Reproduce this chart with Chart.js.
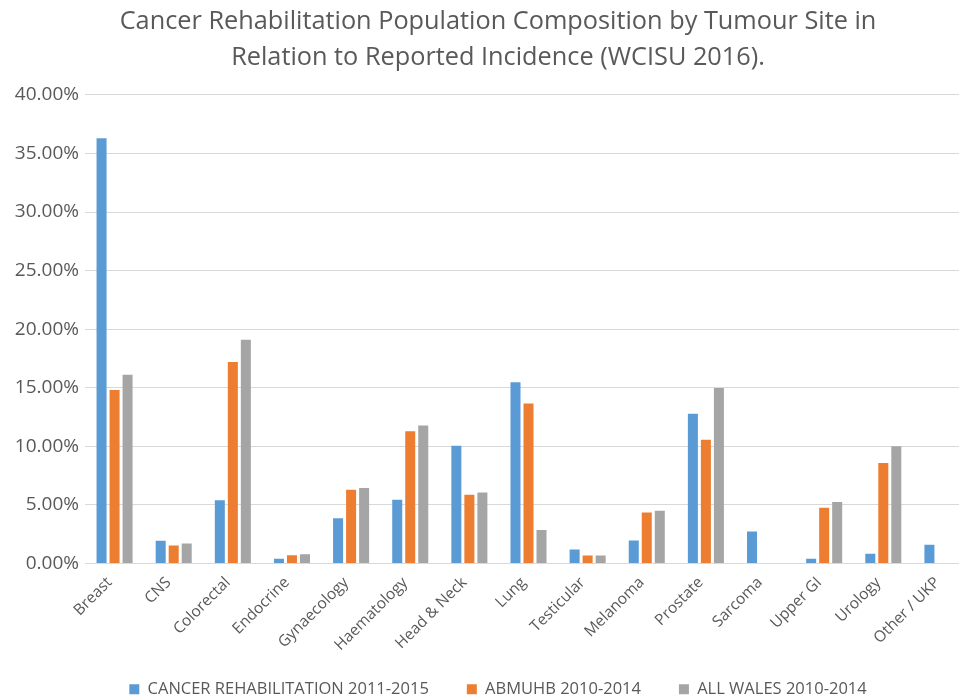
<!DOCTYPE html>
<html>
<head>
<meta charset="utf-8">
<script src="https://cdn.jsdelivr.net/npm/chart.js@4.4.0/dist/chart.umd.min.js"></script>
<style>
html,body{margin:0;padding:0;background:#fff;overflow:hidden;width:959px;height:699px;}
#wrap{width:996px;height:699px;position:relative;}
</style>
</head>
<body>
<div id="wrap"><canvas id="c" width="996" height="699"></canvas></div>
<script>
const categories = ["Breast","CNS","Colorectal","Endocrine","Gynaecology","Haematology","Head & Neck","Lung","Testicular","Melanoma","Prostate","Sarcoma","Upper GI","Urology","Other / UKP"];
const seriesNames = ["CANCER REHABILITATION 2011-2015","ABMUHB 2010-2014","ALL WALES 2010-2014"];
const rehab2011_2015 = [36.3, 1.95, 5.4, 0.4, 3.87, 5.44, 10.06, 15.47, 1.2, 1.97, 12.79, 2.74, 0.4, 0.83, 1.6];
const abmuhb2010_2014 = [14.8, 1.54, 17.2, 0.7, 6.3, 11.28, 5.87, 13.65, 0.68, 4.36, 10.56, 0, 4.76, 8.57, 0];
const allWales2010_2014 = [16.1, 1.7, 19.1, 0.8, 6.44, 11.77, 6.07, 2.85, 0.68, 4.5, 14.98, 0, 5.24, 10.0, 0];
const yTicks = [0,5,10,15,20,25,30,35,40];

const FONT = "'Open Sans', sans-serif";
const GREY = '#595959';

// centre the title and legend over the full (uncropped) chart width; place legend row
const centrePlugin = {
  id: 'centreBlocks',
  afterLayout(chart) {
    const s = 7;
    [chart.titleBlock, chart.legend].forEach(b => { if (b) { b.left += s; b.right += s; } });
    const L = chart.legend;
    if (L) { const h = L.height; L.top = 643; L.bottom = L.top + h; }
  }
};

new Chart(document.getElementById('c'), {
  type: 'bar',
  plugins: [centrePlugin],
  data: {
    labels: categories,
    datasets: [
      {label: seriesNames[0], data: rehab2011_2015, backgroundColor: '#5B9BD5'},
      {label: seriesNames[1], data: abmuhb2010_2014, backgroundColor: '#ED7D31'},
      {label: seriesNames[2], data: allWales2010_2014, backgroundColor: '#A5A5A5'}
    ]
  },
  options: {
    responsive: false,
    animation: false,
    devicePixelRatio: 1,
    layout: {padding: {left: 10, right: 24, top: 4, bottom: -24}},
    datasets: {bar: {categoryPercentage: 0.66, barPercentage: 0.77}},
    plugins: {
      title: {
        display: true,
        text: ["Cancer Rehabilitation Population Composition by Tumour Site in", "Relation to Reported Incidence (WCISU 2016)."],
        color: GREY,
        font: {family: FONT, size: 25.3, weight: 'normal', lineHeight: 1.42},
        padding: {top: 0, bottom: 19}
      },
      legend: {
        position: 'bottom',
        labels: {
          color: GREY,
          font: {family: FONT, size: 16.5},
          boxWidth: 10, boxHeight: 10,
          padding: 38
        }
      },
      tooltip: {enabled: false}
    },
    scales: {
      y: {
        min: 0, max: 40,
        afterBuildTicks: (s) => { s.ticks = yTicks.map(v => ({value: v})); },
        afterFit: (s) => { s.width = 75; },
        ticks: {
          color: GREY,
          font: {family: FONT, size: 19},
          padding: 6,
          callback: (v) => v.toFixed(2) + '%'
        },
        grid: {color: '#D9D9D9', drawTicks: false},
        border: {display: false}
      },
      x: {
        afterFit: (s) => { s.height = 95; },
        ticks: {
          color: GREY,
          font: {family: FONT, size: 15.5},
          minRotation: 45, maxRotation: 45,
          padding: 10,
          labelOffset: -5
        },
        grid: {display: false, drawTicks: false},
        border: {color: '#D9D9D9', width: 1}
      }
    }
  }
});
</script>
</body>
</html>
